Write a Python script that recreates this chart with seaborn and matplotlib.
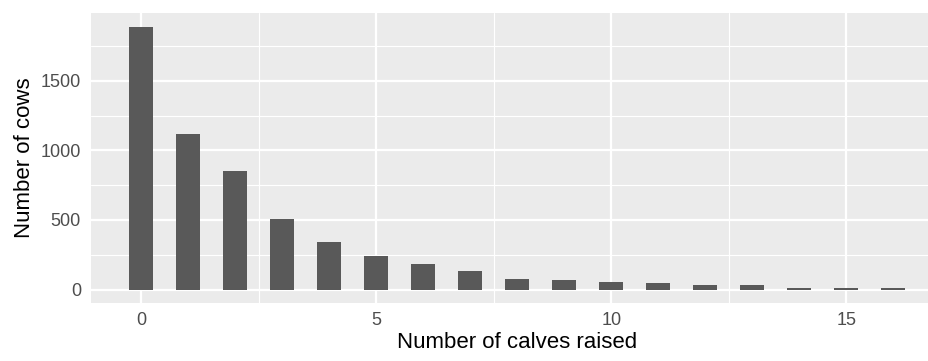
import seaborn as sns
from matplotlib import pyplot as plt
import pandas as pd

# calves raised per cow -> number of cows
calves = [0, 1, 2, 3, 4, 5, 6, 7, 8, 9, 10, 11, 12, 13, 14, 15, 16]
cows = [1890, 1120, 855, 510, 345, 243, 187, 131, 79, 67, 55, 45, 34, 36, 14, 12, 12]

data = pd.DataFrame({'calves': calves, 'cows': cows})

sns.set_theme(style='darkgrid', rc={
    'axes.facecolor': '#EBEBEB',
    'grid.color': 'white',
    'axes.edgecolor': 'none',
})
plt.rcParams['font.family'] = ['Liberation Sans', 'DejaVu Sans']

fig = plt.figure(figsize=(9.29, 3.61), dpi=100)
ax = fig.add_axes([0.0976, 0.1615, 0.9183, 0.8016])

sns.barplot(data=data, x='calves', y='cows', native_scale=True, width=0.5,
            color='#595959', saturation=1, edgecolor='none', ax=ax)

ax.set_xlim(-1.075, 17.075)
ax.set_ylim(-94.5, 1985)
ax.set_xticks([0, 5, 10, 15])
ax.set_xticks([2.5, 7.5, 12.5], minor=True)
ax.set_yticks([0, 500, 1000, 1500])
ax.set_yticks([250, 750, 1250, 1750], minor=True)
ax.grid(which='major', color='white', linewidth=1.6)
ax.grid(which='minor', color='white', linewidth=0.8)
ax.set_axisbelow(True)

ax.tick_params(which='major', length=4, width=1.2, color='#333333',
               labelsize=13, labelcolor='#4d4d4d', pad=3)
ax.tick_params(which='minor', length=0)
for s in ax.spines.values():
    s.set_visible(False)

ax.set_xlabel('Number of calves raised', fontsize=16, color='black', labelpad=2)
ax.set_ylabel('Number of cows', fontsize=16, color='black', labelpad=4)

fig.savefig('out.png', dpi=100)
